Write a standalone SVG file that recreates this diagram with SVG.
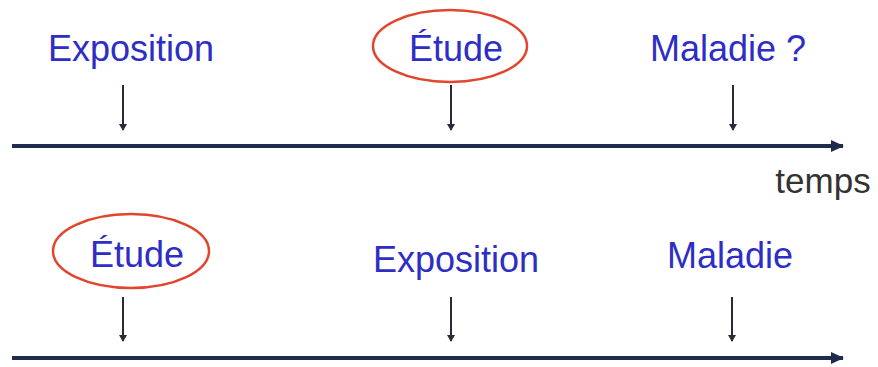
<svg xmlns="http://www.w3.org/2000/svg" width="878" height="367" viewBox="0 0 878 367">
<style>
.lbl{font-family:"Liberation Sans",Arial,sans-serif;font-size:36px;fill:#2e2ec4;text-anchor:middle}
.tm{font-family:"Liberation Sans",Arial,sans-serif;font-size:35px;fill:#333333;text-anchor:middle}
.ring{fill:none;stroke:#e2452e;stroke-width:2.5}
.tick{stroke:#2a2a3a;stroke-width:2;fill:none;marker-end:url(#sm)}
.axis{stroke:#1f2b4d;stroke-width:4;fill:none;marker-end:url(#big)}
</style>
<defs>
<marker id="sm" markerWidth="8" markerHeight="8" refX="6" refY="4" orient="auto" markerUnits="userSpaceOnUse">
<path d="M0,0 L7,4 L0,8 z" fill="#2a2a3a"/>
</marker>
<marker id="big" markerWidth="14" markerHeight="12" refX="12" refY="6" orient="auto" markerUnits="userSpaceOnUse">
<path d="M0,0 L13,6 L0,12 z" fill="#1f2b4d"/>
</marker>
</defs>
<rect width="878" height="367" fill="#ffffff"/>
<g id="connectors">
<line class="axis" x1="12" y1="146" x2="843" y2="146"/>
<line class="axis" x1="12" y1="358" x2="843" y2="358"/>
<line class="tick" x1="123" y1="85" x2="123" y2="130"/>
<line class="tick" x1="451" y1="85" x2="451" y2="130"/>
<line class="tick" x1="733" y1="85" x2="733" y2="130"/>
<line class="tick" x1="123" y1="297" x2="123" y2="341"/>
<line class="tick" x1="451" y1="297" x2="451" y2="341"/>
<line class="tick" x1="732" y1="297" x2="732" y2="341"/>
</g>
<g id="exposition-top"><text class="lbl" x="131" y="61">Exposition</text></g>
<g id="etude-top"><ellipse class="ring" cx="450" cy="46" rx="77" ry="36"/><text class="lbl" x="456" y="61">Étude</text></g>
<g id="maladie-top"><text class="lbl" x="728" y="61">Maladie ?</text></g>
<g id="temps"><text class="tm" x="823" y="193">temps</text></g>
<g id="etude-bottom"><ellipse class="ring" cx="131" cy="251" rx="78" ry="37"/><text class="lbl" x="137" y="267">Étude</text></g>
<g id="exposition-bottom"><text class="lbl" x="456" y="272">Exposition</text></g>
<g id="maladie-bottom"><text class="lbl" x="730" y="268">Maladie</text></g>
</svg>
